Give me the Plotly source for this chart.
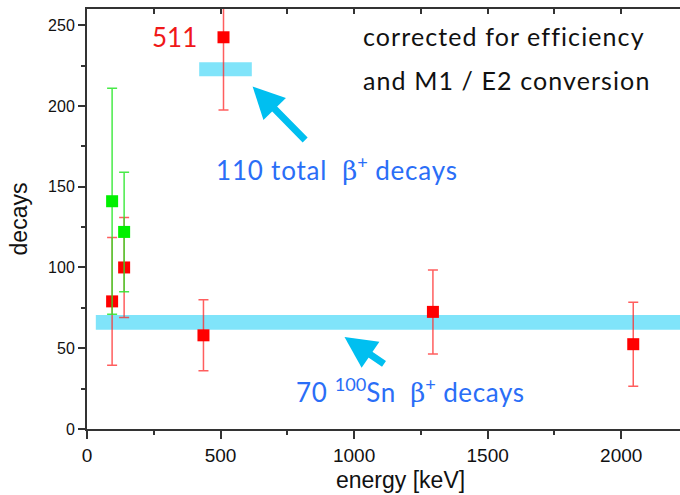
import plotly.graph_objects as go

# gamma lines, corrected for efficiency and M1/E2 conversion
red_energy = [94, 139, 436, 511, 1295, 2045]
red_decays = [79, 100, 58, 242.5, 72.5, 52.5]
red_err = [39.5, 31, 22, 45, 26, 26]

green_energy = [94, 139]
green_decays = [141, 122]
green_err = [70, 37]

# beta+ decay bands: (x0, x1, y0, y1)
band_total = (420, 617, 218.4, 227)
band_sn = (33, 2400, 61.5, 70.6)

x_range = [0, 2220]
y_range = [0, 260]

BLUE = "#2a6ef7"
CYAN_BAND = "#80e4fa"
CYAN_ARROW = "#00bff0"
AXIS = "#333333"
TXT_FONT = "Lato"
AX_FONT = "Arial"


def spaced(text, px):
    return f"<span style='letter-spacing:{px}px'>{text}</span>"


BETA = "<span style='font-family:DejaVu Serif'>β</span><sup>+</sup>"

fig = go.Figure()

for b in (band_total, band_sn):
    fig.add_shape(type="rect", x0=b[0], x1=b[1], y0=b[2], y1=b[3],
                  xref="x", yref="y", fillcolor=CYAN_BAND, line_width=0,
                  layer="below")

fig.add_trace(go.Scatter(
    x=red_energy, y=red_decays, mode="markers",
    marker=dict(symbol="square", size=12, color="#ff0000"),
    error_y=dict(type="data", array=red_err, visible=True,
                 color="rgba(255,40,40,0.75)", thickness=1.5, width=5),
    cliponaxis=True, showlegend=False))

fig.add_trace(go.Scatter(
    x=green_energy, y=green_decays, mode="markers",
    marker=dict(symbol="square", size=12, color="#00f000"),
    error_y=dict(type="data", array=green_err, visible=True,
                 color="rgba(40,230,40,0.85)", thickness=1.5, width=5),
    cliponaxis=True, showlegend=False))

# invisible trace carrying the top axis
fig.add_trace(go.Scatter(x=[None], y=[None], xaxis="x2", showlegend=False))

annotations = [
    dict(x=327, y=242.5, text="511", showarrow=False,
         font=dict(family=TXT_FONT, size=26, color="#f01818")),
    dict(x=1027, y=243.5, text=spaced("corrected for efficiency", 1.1),
         showarrow=False, xanchor="left",
         font=dict(family=TXT_FONT, size=25, color="#111111")),
    dict(x=1027, y=216, text=spaced("and M1 / E2 conversion", 1.1),
         showarrow=False, xanchor="left",
         font=dict(family=TXT_FONT, size=25, color="#111111")),
    dict(x=476, y=161.5, xanchor="left", showarrow=False,
         text=spaced("110 total  ", 0.8) + BETA + spaced(" decays", 0.8),
         font=dict(family=TXT_FONT, size=26, color=BLUE)),
    dict(x=775, y=24, xanchor="left", showarrow=False,
         text=spaced("70 ", 0.6) + "<sup>100</sup>" + spaced("Sn  ", 0.6)
         + BETA + spaced(" decays", 0.6),
         font=dict(family=TXT_FONT, size=26, color=BLUE)),
    # arrows pointing at the bands
    dict(x=620, y=212, ax=54, ay=55, text="", showarrow=True,
         arrowhead=2, arrowsize=0.9, arrowwidth=7, arrowcolor=CYAN_ARROW,
         standoff=0),
    dict(x=964, y=57, ax=41, ay=28, text="", showarrow=True,
         arrowhead=2, arrowsize=0.9, arrowwidth=7, arrowcolor=CYAN_ARROW,
         standoff=0),
    dict(x=0.528, y=-0.122, xref="paper", yref="paper", text="energy [keV]",
         showarrow=False, yanchor="middle",
         font=dict(family=AX_FONT, size=23, color="#111111")),
]

fig.update_layout(
    width=680, height=495,
    margin=dict(l=87, r=0, t=9, b=66),
    paper_bgcolor="white", plot_bgcolor="white",
    annotations=annotations,
    xaxis=dict(
        range=x_range, showgrid=False, zeroline=False,
        showline=True, linecolor=AXIS, linewidth=2,
        ticks="outside", ticklen=8, tickwidth=1.5, tickcolor=AXIS,
        tick0=0, dtick=500,
        minor=dict(ticks="outside", ticklen=4, tickwidth=1.5,
                   tickcolor=AXIS, dtick=250, showgrid=False),
        tickfont=dict(family=AX_FONT, size=19, color="#111111"),
    ),
    xaxis2=dict(
        range=x_range, overlaying="x", side="top", showgrid=False,
        zeroline=False, showline=True, linecolor=AXIS, linewidth=2,
        ticks="inside", ticklen=5, tickwidth=1.5, tickcolor=AXIS,
        tick0=0, dtick=250, showticklabels=False,
    ),
    yaxis=dict(
        range=y_range, showgrid=False, zeroline=False,
        showline=True, linecolor=AXIS, linewidth=2,
        ticks="outside", ticklen=7, tickwidth=1.5, tickcolor=AXIS,
        tick0=0, dtick=50,
        minor=dict(ticks="outside", ticklen=4, tickwidth=1.5,
                   tickcolor=AXIS, dtick=25, showgrid=False),
        tickfont=dict(family=AX_FONT, size=16, color="#111111"),
        title=dict(text="decays", standoff=14,
                   font=dict(family=AX_FONT, size=23, color="#111111")),
    ),
)

fig.write_html("out.html")
